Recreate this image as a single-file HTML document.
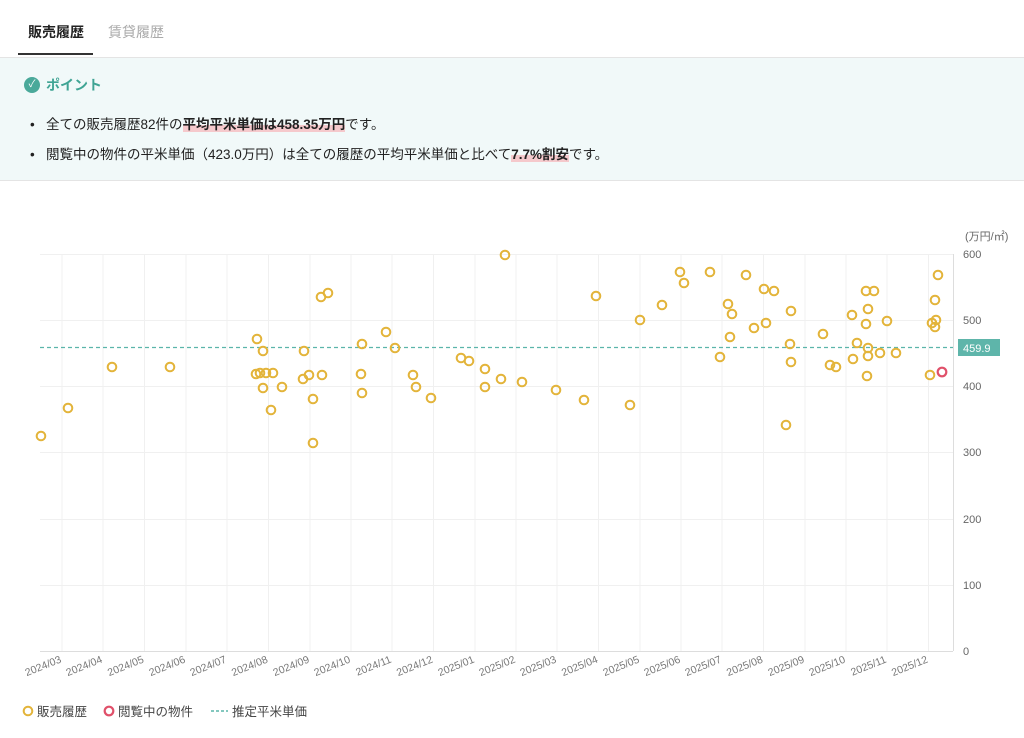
<!DOCTYPE html><html><head><meta charset="utf-8"><style>
body{margin:0;width:1024px;height:738px;background:#fff;font-family:"Liberation Sans","Noto Sans CJK JP",sans-serif;color:#222;overflow:hidden;position:relative}
.tab{position:absolute;top:22px;font-size:14px}
.panel{position:absolute;left:0;top:57px;width:1024px;height:122px;background:#f1f9f9;border-top:1px solid #e4e4e4;border-bottom:1px solid #e4e4e4}
.b{position:absolute;left:30px;font-size:13.5px;color:#222}
.b span.h{font-weight:bold;background:linear-gradient(transparent 55%,#f5c9cc 55%)}
svg text{font-family:"Liberation Sans","Noto Sans CJK JP",sans-serif}
</style></head><body>
<div class="tab" style="left:28px;font-weight:bold;color:#222">販売履歴</div>
<div class="tab" style="left:108px;color:#aaa">賃貸履歴</div>
<div style="position:absolute;left:18px;top:53px;width:75px;height:2px;background:#333"></div>
<div class="panel">
<div style="position:absolute;left:24px;top:19px;width:16px;height:16px;border-radius:50%;background:#4aa99a;color:#fff;font-size:10px;text-align:center;line-height:16px">✓</div>
<div style="position:absolute;left:46px;top:17px;font-size:14px;color:#3fa494;font-weight:bold">ポイント</div>
<div class="b" style="top:55px">•&nbsp;&nbsp;&nbsp;全ての販売履歴82件の<span class="h">平均平米単価は458.35万円</span>です。</div>
<div class="b" style="top:85px">•&nbsp;&nbsp;&nbsp;閲覧中の物件の平米単価（423.0万円）は全ての履歴の平均平米単価と比べて<span class="h">7.7%割安</span>です。</div>
</div>
<svg width="1024" height="738" style="position:absolute;left:0;top:0">
<g stroke="#f0f0f0" stroke-width="1">
<line x1="40" y1="254.5" x2="953" y2="254.5"/><line x1="40" y1="320.5" x2="953" y2="320.5"/><line x1="40" y1="386.5" x2="953" y2="386.5"/><line x1="40" y1="452.5" x2="953" y2="452.5"/><line x1="40" y1="519.5" x2="953" y2="519.5"/><line x1="40" y1="585.5" x2="953" y2="585.5"/>
<line x1="62" y1="254" x2="62" y2="651"/><line x1="103" y1="254" x2="103" y2="651"/><line x1="144.5" y1="254" x2="144.5" y2="651"/><line x1="186" y1="254" x2="186" y2="651"/><line x1="227" y1="254" x2="227" y2="651"/><line x1="268.5" y1="254" x2="268.5" y2="651"/><line x1="310" y1="254" x2="310" y2="651"/><line x1="351" y1="254" x2="351" y2="651"/><line x1="392" y1="254" x2="392" y2="651"/><line x1="433.5" y1="254" x2="433.5" y2="651"/><line x1="475" y1="254" x2="475" y2="651"/><line x1="516" y1="254" x2="516" y2="651"/><line x1="557" y1="254" x2="557" y2="651"/><line x1="598.5" y1="254" x2="598.5" y2="651"/><line x1="640" y1="254" x2="640" y2="651"/><line x1="681" y1="254" x2="681" y2="651"/><line x1="722" y1="254" x2="722" y2="651"/><line x1="763.5" y1="254" x2="763.5" y2="651"/><line x1="805" y1="254" x2="805" y2="651"/><line x1="846" y1="254" x2="846" y2="651"/><line x1="887" y1="254" x2="887" y2="651"/><line x1="928.5" y1="254" x2="928.5" y2="651"/>
</g>
<line x1="40" y1="651.5" x2="953" y2="651.5" stroke="#ddd"/>
<line x1="953.5" y1="254" x2="953.5" y2="651" stroke="#ddd"/>
<g font-size="11" fill="#666">
<text x="965" y="240">(万円/㎡)</text>
<text x="963" y="258">600</text><text x="963" y="324">500</text><text x="963" y="390">400</text><text x="963" y="456">300</text><text x="963" y="523">200</text><text x="963" y="589">100</text><text x="963" y="655">0</text>
</g>
<g font-size="10.5" fill="#777" text-anchor="end">
<g transform="translate(62,662) rotate(-22)"><text>2024/03</text></g>
<g transform="translate(103,662) rotate(-22)"><text>2024/04</text></g>
<g transform="translate(144.5,662) rotate(-22)"><text>2024/05</text></g>
<g transform="translate(186,662) rotate(-22)"><text>2024/06</text></g>
<g transform="translate(227,662) rotate(-22)"><text>2024/07</text></g>
<g transform="translate(268.5,662) rotate(-22)"><text>2024/08</text></g>
<g transform="translate(310,662) rotate(-22)"><text>2024/09</text></g>
<g transform="translate(351,662) rotate(-22)"><text>2024/10</text></g>
<g transform="translate(392,662) rotate(-22)"><text>2024/11</text></g>
<g transform="translate(433.5,662) rotate(-22)"><text>2024/12</text></g>
<g transform="translate(475,662) rotate(-22)"><text>2025/01</text></g>
<g transform="translate(516,662) rotate(-22)"><text>2025/02</text></g>
<g transform="translate(557,662) rotate(-22)"><text>2025/03</text></g>
<g transform="translate(598.5,662) rotate(-22)"><text>2025/04</text></g>
<g transform="translate(640,662) rotate(-22)"><text>2025/05</text></g>
<g transform="translate(681,662) rotate(-22)"><text>2025/06</text></g>
<g transform="translate(722,662) rotate(-22)"><text>2025/07</text></g>
<g transform="translate(763.5,662) rotate(-22)"><text>2025/08</text></g>
<g transform="translate(805,662) rotate(-22)"><text>2025/09</text></g>
<g transform="translate(846,662) rotate(-22)"><text>2025/10</text></g>
<g transform="translate(887,662) rotate(-22)"><text>2025/11</text></g>
<g transform="translate(928.5,662) rotate(-22)"><text>2025/12</text></g>
</g>
<line x1="40" y1="347.5" x2="953" y2="347.5" stroke="#5bb5aa" stroke-width="1.2" stroke-dasharray="4,3"/>
<rect x="958" y="339" width="42" height="17" fill="#5eb5aa"/>
<text x="963" y="352" font-size="11" fill="#fff">459.9</text>
<g fill="none" stroke="#e3b43a" stroke-width="2">
<circle cx="41" cy="436" r="4.3"/><circle cx="68" cy="408" r="4.3"/><circle cx="112" cy="367" r="4.3"/><circle cx="170" cy="367" r="4.3"/><circle cx="257" cy="339" r="4.3"/><circle cx="263" cy="351" r="4.3"/><circle cx="256" cy="374" r="4.3"/><circle cx="260" cy="373" r="4.3"/><circle cx="266" cy="373" r="4.3"/><circle cx="273" cy="373" r="4.3"/><circle cx="263" cy="388" r="4.3"/><circle cx="271" cy="410" r="4.3"/><circle cx="282" cy="387" r="4.3"/><circle cx="304" cy="351" r="4.3"/><circle cx="303" cy="379" r="4.3"/><circle cx="309" cy="375" r="4.3"/><circle cx="313" cy="399" r="4.3"/><circle cx="313" cy="443" r="4.3"/><circle cx="322" cy="375" r="4.3"/><circle cx="321" cy="297" r="4.3"/><circle cx="328" cy="293" r="4.3"/><circle cx="362" cy="344" r="4.3"/><circle cx="361" cy="374" r="4.3"/><circle cx="362" cy="393" r="4.3"/><circle cx="386" cy="332" r="4.3"/><circle cx="395" cy="348" r="4.3"/><circle cx="413" cy="375" r="4.3"/><circle cx="416" cy="387" r="4.3"/><circle cx="431" cy="398" r="4.3"/><circle cx="461" cy="358" r="4.3"/><circle cx="469" cy="361" r="4.3"/><circle cx="485" cy="369" r="4.3"/><circle cx="485" cy="387" r="4.3"/><circle cx="501" cy="379" r="4.3"/><circle cx="505" cy="255" r="4.3"/><circle cx="522" cy="382" r="4.3"/><circle cx="556" cy="390" r="4.3"/><circle cx="584" cy="400" r="4.3"/><circle cx="596" cy="296" r="4.3"/><circle cx="630" cy="405" r="4.3"/><circle cx="640" cy="320" r="4.3"/><circle cx="662" cy="305" r="4.3"/><circle cx="680" cy="272" r="4.3"/><circle cx="684" cy="283" r="4.3"/><circle cx="710" cy="272" r="4.3"/><circle cx="720" cy="357" r="4.3"/><circle cx="728" cy="304" r="4.3"/><circle cx="730" cy="337" r="4.3"/><circle cx="732" cy="314" r="4.3"/><circle cx="746" cy="275" r="4.3"/><circle cx="754" cy="328" r="4.3"/><circle cx="764" cy="289" r="4.3"/><circle cx="766" cy="323" r="4.3"/><circle cx="774" cy="291" r="4.3"/><circle cx="786" cy="425" r="4.3"/><circle cx="790" cy="344" r="4.3"/><circle cx="791" cy="311" r="4.3"/><circle cx="791" cy="362" r="4.3"/><circle cx="823" cy="334" r="4.3"/><circle cx="830" cy="365" r="4.3"/><circle cx="836" cy="367" r="4.3"/><circle cx="852" cy="315" r="4.3"/><circle cx="853" cy="359" r="4.3"/><circle cx="857" cy="343" r="4.3"/><circle cx="866" cy="291" r="4.3"/><circle cx="868" cy="309" r="4.3"/><circle cx="866" cy="324" r="4.3"/><circle cx="868" cy="348" r="4.3"/><circle cx="868" cy="356" r="4.3"/><circle cx="867" cy="376" r="4.3"/><circle cx="874" cy="291" r="4.3"/><circle cx="880" cy="353" r="4.3"/><circle cx="887" cy="321" r="4.3"/><circle cx="896" cy="353" r="4.3"/><circle cx="930" cy="375" r="4.3"/><circle cx="932" cy="323" r="4.3"/><circle cx="935" cy="300" r="4.3"/><circle cx="936" cy="320" r="4.3"/><circle cx="935" cy="327" r="4.3"/><circle cx="938" cy="275" r="4.3"/>
</g>
<circle cx="942" cy="372" r="4.3" fill="none" stroke="#e0506a" stroke-width="2.2"/>
<circle cx="28" cy="711" r="4.3" fill="none" stroke="#e3b43a" stroke-width="2"/>
<text x="37" y="716" font-size="12.5" fill="#444">販売履歴</text>
<circle cx="109" cy="711" r="4.3" fill="none" stroke="#e0506a" stroke-width="2.2"/>
<text x="118" y="716" font-size="12.5" fill="#444">閲覧中の物件</text>
<line x1="211" y1="711" x2="228" y2="711" stroke="#5bb5aa" stroke-width="1.5" stroke-dasharray="3,2"/>
<text x="232" y="716" font-size="12.5" fill="#444">推定平米単価</text>
</svg>
</body></html>
